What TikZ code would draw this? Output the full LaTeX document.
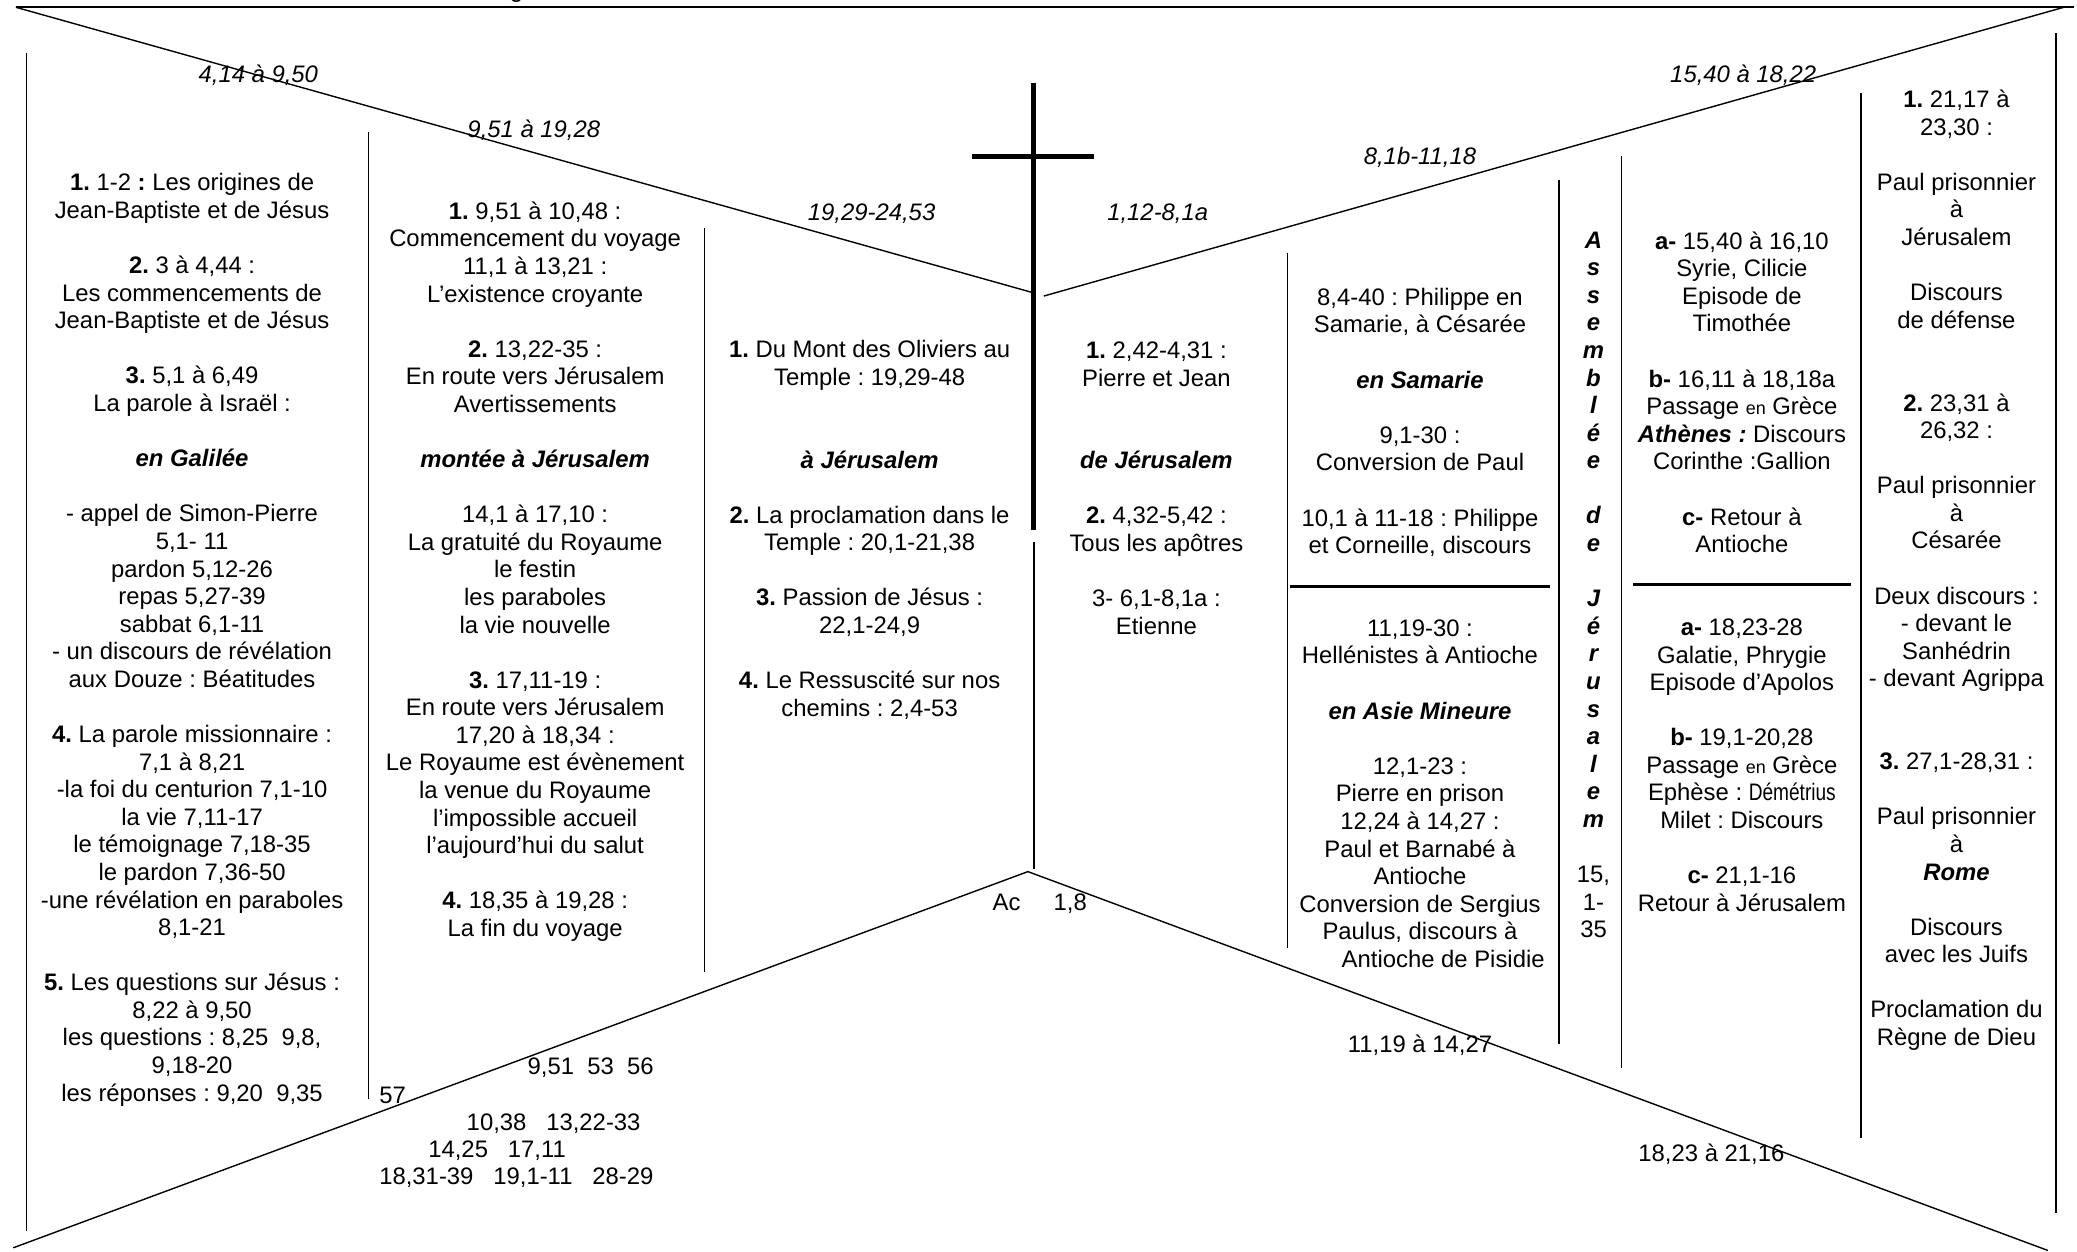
\documentclass[tikz,border=0pt]{standalone}
\usepackage{fontspec}
\setmainfont{Liberation Sans}
\newfontfamily\narrowfam[FakeStretch=0.8]{Liberation Sans}
\newcommand{\petit}[1]{{\fontsize{7.7}{11.85}\selectfont #1}}
\frenchspacing
\begin{document}
\begin{tikzpicture}[
  x=0.2mm, y=-0.2mm,
  font=\fontsize{10.25}{11.85}\selectfont,
  frame/.style={line width=0.6pt},
  topline/.style={line width=0.8pt},
  sepline/.style={line width=1.15pt},
  crossbar/.style={line width=2.2pt},
  colbox/.style={align=center, inner sep=0pt},
  vertword/.style={align=center, inner sep=0pt, font=\fontsize{10.25}{11.85}\selectfont\bfseries\itshape},
  rangelbl/.style={inner sep=0pt, font=\fontsize{10.25}{11.85}\selectfont\itshape},
  reflbl/.style={inner sep=0pt, anchor=west},
  place/.style={inner sep=0pt}
]
\useasboundingbox (0,0) rectangle (1568,945);

% =============================================================
% frame: top bar, upper V, lower roof
% =============================================================
\coordinate (tl) at (12,5.5);
\coordinate (tr) at (1566,5.5);
\coordinate (vl) at (780,221);
\coordinate (vr) at (788,223.5);
\coordinate (trd) at (1558,5.5);
\coordinate (bl) at (10,942);
\coordinate (apex) at (776,658);
\coordinate (br) at (1546,944);

\draw[topline] (tl) -- (tr);
\draw[frame] (tl) -- (vl);
\draw[frame] (vr) -- (trd);
\draw[frame] (bl) -- (apex) -- (br);

% cut-off title
\node[place, anchor=base] (ttl) at (390,-1.8) {g};

% the cross
\draw[crossbar] (780.5,63) -- (780.5,400);
\draw[crossbar] (734,118) -- (826,118);
\draw[frame] (780.5,409) -- (780.5,656);

% column rules
\draw[frame] (20,40) -- (20,929);
\draw[frame] (278,100) -- (278,830);
\draw[frame] (532,172) -- (532,734);
\draw[frame] (972,191) -- (972,716);
\draw[frame] (1177,136) -- (1177,788);
\draw[frame] (1224,118) -- (1224,806);
\draw[frame] (1405,70) -- (1405,859);
\draw[frame] (1552,25) -- (1552,916);

% horizontal separators
\draw[sepline] (974,443) -- (1170,443);
\draw[sepline] (1233,441) -- (1397,441);

% =============================================================
% range labels on the diagonals
% =============================================================
\node[rangelbl] (galr) at (195,57) {4,14 à 9,50};
\node[rangelbl] (voyr) at (403,98) {9,51 à 19,28};
\node[rangelbl] (jerr) at (658,161) {19,29-24,53};
\node[rangelbl] (djer) at (874,161) {1,12-8,1a};
\node[rangelbl] (samr) at (1072,118.5) {8,1b-11,18};
\node[rangelbl] (missr) at (1316,57) {15,40 à 18,22};

% =============================================================
% Luke: three columns
% =============================================================
\node[colbox] (galilee) at (145,483) {%
\textbf{1.} 1-2 \textbf{:} Les origines de\\
Jean-Baptiste et de Jésus\\[\baselineskip]
\textbf{2.} 3 à 4,44 :\\
Les commencements de\\
Jean-Baptiste et de Jésus\\[\baselineskip]
\textbf{3.} 5,1 à 6,49\\
La parole à Israël :\\[\baselineskip]
\textbf{\textit{en Galilée}}\\[\baselineskip]
- appel de Simon-Pierre\\
5,1- 11\\
pardon 5,12-26\\
repas 5,27-39\\
sabbat 6,1-11\\
- un discours de révélation\\
aux Douze : Béatitudes\\[\baselineskip]
\textbf{4.} La parole missionnaire :\\
7,1 à 8,21\\
-la foi du centurion 7,1-10\\
la vie 7,11-17\\
le témoignage 7,18-35\\
le pardon 7,36-50\\
-une révélation en paraboles\\
8,1-21\\[\baselineskip]
\textbf{5.} Les questions sur Jésus :\\
8,22 à 9,50\\
les questions : 8,25~~9,8,\\
9,18-20\\
les réponses : 9,20~~9,35};

\node[colbox] (montee) at (404,431.5) {%
\textbf{1.} 9,51 à 10,48 :\\
Commencement du voyage\\
11,1 à 13,21 :\\
L’existence croyante\\[\baselineskip]
\textbf{2.} 13,22-35 :\\
En route vers Jérusalem\\
Avertissements\\[\baselineskip]
\textbf{\textit{montée à Jérusalem}}\\[\baselineskip]
14,1 à 17,10 :\\
La gratuité du Royaume\\
le festin\\
les paraboles\\
la vie nouvelle\\[\baselineskip]
\textbf{3.} 17,11-19 :\\
En route vers Jérusalem\\
17,20 à 18,34 :\\
Le Royaume est évènement\\
la venue du Royaume\\
l’impossible accueil\\
l’aujourd’hui du salut\\[\baselineskip]
\textbf{4.} 18,35 à 19,28 :\\
La fin du voyage};

\node[colbox] (ajerus) at (656.5,400) {%
\textbf{1.} Du Mont des Oliviers au\\
Temple : 19,29-48\\[2\baselineskip]
\textbf{\textit{à Jérusalem}}\\[\baselineskip]
\textbf{2.} La proclamation dans le\\
Temple : 20,1-21,38\\[\baselineskip]
\textbf{3.} Passion de Jésus :\\
22,1-24,9\\[\baselineskip]
\textbf{4.} Le Ressuscité sur nos\\
chemins : 2,4-53};

% =============================================================
% Acts: columns right of the cross
% =============================================================
\node[colbox] (dejerus) at (873,368.5) {%
\textbf{1.} 2,42-4,31 :\\
Pierre et Jean\\[2\baselineskip]
\textbf{\textit{de Jérusalem}}\\[\baselineskip]
\textbf{2.} 4,32-5,42 :\\
Tous les apôtres\\[\baselineskip]
3- 6,1-8,1a :\\
Etienne};

\node[colbox] (samarie) at (1072,474) {%
8,4-40 : Philippe en\\
Samarie, à Césarée\\[\baselineskip]
\textbf{\textit{en Samarie}}\\[\baselineskip]
9,1-30 :\\
Conversion de Paul\\[\baselineskip]
10,1 à 11-18 : Philippe\\
et Corneille, discours\\[2\baselineskip]
11,19-30 :\\
Hellénistes à Antioche\\[\baselineskip]
\textbf{\textit{en Asie Mineure}}\\[\baselineskip]
12,1-23 :\\
Pierre en prison\\
12,24 à 14,27 :\\
Paul et Barnabé à\\
Antioche\\
Conversion de Sergius\\
Paulus, discours à\\
\hspace*{7mm}Antioche de Pisidie};

\node[vertword] (assemblee) at (1203,441.5) {%
A\\ s\\ s\\ e\\ m\\ b\\ l\\ é\\ e\\[\baselineskip]
d\\ e\\[\baselineskip]
J\\ é\\ r\\ u\\ s\\ a\\ l\\ e\\ m\\[\baselineskip]
\textnormal{15,}\\ \textnormal{1-}\\ \textnormal{35}};

\node[colbox] (voyages) at (1315,431.5) {%
\textbf{a-} 15,40 à 16,10\\
Syrie, Cilicie\\
Episode de\\
Timothée\\[\baselineskip]
\textbf{b-} 16,11 à 18,18a\\
Passage \petit{en} Grèce\\
\textbf{\textit{Athènes :}} Discours\\
Corinthe :Gallion\\[\baselineskip]
\textbf{c-} Retour à\\
Antioche\\[2\baselineskip]
\textbf{a-} 18,23-28\\
Galatie, Phrygie\\
Episode d’Apolos\\[\baselineskip]
\textbf{b-} 19,1-20,28\\
Passage \petit{en} Grèce\\
Ephèse : {\narrowfam Démétrius}\\
Milet : Discours\\[\baselineskip]
\textbf{c-} 21,1-16\\
Retour à Jérusalem};

\node[colbox] (prison) at (1477,430.5) {%
\textbf{1.} 21,17 à\\
23,30 :\\[\baselineskip]
Paul prisonnier\\
à\\
Jérusalem\\[\baselineskip]
Discours\\
de défense\\[2\baselineskip]
\textbf{2.} 23,31 à\\
26,32 :\\[\baselineskip]
Paul prisonnier\\
à\\
Césarée\\[\baselineskip]
Deux discours :\\
- devant le\\
Sanhédrin\\
- devant Agrippa\\[2\baselineskip]
\textbf{3.} 27,1-28,31 :\\[\baselineskip]
Paul prisonnier\\
à\\
\textbf{\textit{Rome}}\\[\baselineskip]
Discours\\
avec les Juifs\\[\baselineskip]
Proclamation du\\
Règne de Dieu};

% =============================================================
% references under the roof
% =============================================================
\node[reflbl] (r951) at (398,806) {9,51~~53~~56};
\node[reflbl] (r57) at (286,827) {57};
\node[reflbl] (r1038) at (352,848) {10,38~~~13,22-33};
\node[reflbl] (r1425) at (323,869) {14,25~~~17,11};
\node[reflbl] (r1831) at (286,889) {18,31-39~~~19,1-11~~~28-29};
\node[reflbl] (acts) at (749,682) {Ac~~~~~1,8};
\node[place] (r1119) at (1072,789) {11,19 à 14,27};
\node[place] (r1823) at (1292,871) {18,23 à 21,16};

\end{tikzpicture}
\end{document}
